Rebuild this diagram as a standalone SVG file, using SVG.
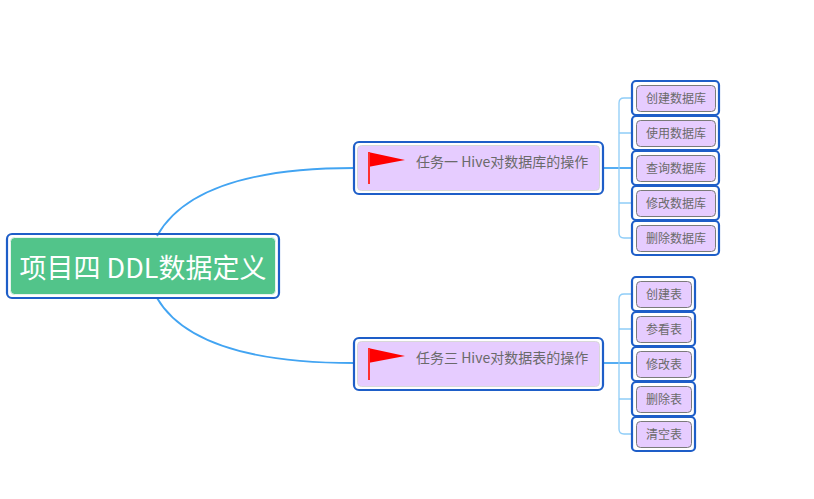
<svg xmlns="http://www.w3.org/2000/svg" width="814" height="499" viewBox="0 0 814 499">
<defs>
<style>
.sel{fill:none;stroke:#1e5ec8;stroke-width:2.2}
.root{fill:#52c48a;stroke:#e8f4ee;stroke-width:1}
.task{fill:#e6ccff;stroke:#d8d8d8;stroke-width:1}
.leaf{fill:#e6ccff;stroke:#7a7a7a;stroke-width:1}
.main{fill:none;stroke:#42a4f2;stroke-width:1.8}
.br{fill:none;stroke:#8fcdf8;stroke-width:1.3}
.t{font-family:"Noto Sans CJK SC","Liberation Sans",sans-serif;fill:#6a6a6a}
.tt{font-size:14px}
.lt{font-size:12px;text-anchor:middle}
.rt{font-family:"Noto Sans CJK SC","Liberation Sans",sans-serif;font-size:27px;fill:#ffffff;text-anchor:middle}
</style>
<g id="flag">
<polygon points="0,0 37,8 0,15" fill="#ff0000"/>
<line x1="1" y1="0" x2="1" y2="32" stroke="#ff3030" stroke-width="2"/>
</g>
</defs>
<rect width="814" height="499" fill="#ffffff"/>
<g id="connectors">
<path class="main" d="M157,236 Q195,168 354,168"/>
<path class="main" d="M157,298 Q195,363 354,363"/>
<path class="main" d="M603,168 H632"/>
<path class="main" d="M603,363 H632"/>
<path class="br" d="M632,98 H624 Q619,98 619,103 V233 Q619,238 624,238 H632"/>
<path class="br" d="M619,133 H632 M619,203 H632"/>
<path class="br" d="M632,294 H624 Q619,294 619,299 V429 Q619,434 624,434 H632"/>
<path class="br" d="M619,329 H632 M619,399 H632"/>
</g>
<g id="root">
<rect class="sel" x="7" y="234" width="272" height="64" rx="5"/>
<rect class="root" x="10.5" y="237.5" width="265" height="57" rx="4"/>
<text class="rt" x="143" y="277.5">项目四 DDL数据定义</text>
</g>
<g id="task1">
<rect class="sel" x="354" y="142" width="249" height="52" rx="5"/>
<rect class="task" x="357.5" y="145.5" width="242" height="45" rx="4"/>
<use href="#flag" x="368" y="152"/>
<text class="t tt" x="416" y="167">任务一 Hive对数据库的操作</text>
</g>
<g id="task3">
<rect class="sel" x="354" y="338" width="249" height="52" rx="5"/>
<rect class="task" x="357.5" y="341.5" width="242" height="45" rx="4"/>
<use href="#flag" x="368" y="348"/>
<text class="t tt" x="416" y="363">任务三 Hive对数据表的操作</text>
</g>
<g id="c1"><rect class="sel" x="632" y="81" width="87" height="34" rx="4"/><rect class="leaf" x="636.5" y="85.5" width="79" height="26" rx="4"/><text class="t lt" x="676" y="102.5">创建数据库</text></g>
<g id="c2"><rect class="sel" x="632" y="116" width="87" height="34" rx="4"/><rect class="leaf" x="636.5" y="120.5" width="79" height="26" rx="4"/><text class="t lt" x="676" y="137.5">使用数据库</text></g>
<g id="c3"><rect class="sel" x="632" y="151" width="87" height="34" rx="4"/><rect class="leaf" x="636.5" y="155.5" width="79" height="26" rx="4"/><text class="t lt" x="676" y="172.5">查询数据库</text></g>
<g id="c4"><rect class="sel" x="632" y="186" width="87" height="34" rx="4"/><rect class="leaf" x="636.5" y="190.5" width="79" height="26" rx="4"/><text class="t lt" x="676" y="207.5">修改数据库</text></g>
<g id="c5"><rect class="sel" x="632" y="221" width="87" height="34" rx="4"/><rect class="leaf" x="636.5" y="225.5" width="79" height="26" rx="4"/><text class="t lt" x="676" y="242.5">删除数据库</text></g>
<g id="d1"><rect class="sel" x="632" y="277" width="63" height="34" rx="4"/><rect class="leaf" x="636.5" y="281.5" width="55" height="26" rx="4"/><text class="t lt" x="664" y="298.5">创建表</text></g>
<g id="d2"><rect class="sel" x="632" y="312" width="63" height="34" rx="4"/><rect class="leaf" x="636.5" y="316.5" width="55" height="26" rx="4"/><text class="t lt" x="664" y="333.5">参看表</text></g>
<g id="d3"><rect class="sel" x="632" y="347" width="63" height="34" rx="4"/><rect class="leaf" x="636.5" y="351.5" width="55" height="26" rx="4"/><text class="t lt" x="664" y="368.5">修改表</text></g>
<g id="d4"><rect class="sel" x="632" y="382" width="63" height="34" rx="4"/><rect class="leaf" x="636.5" y="386.5" width="55" height="26" rx="4"/><text class="t lt" x="664" y="403.5">删除表</text></g>
<g id="d5"><rect class="sel" x="632" y="417" width="63" height="34" rx="4"/><rect class="leaf" x="636.5" y="421.5" width="55" height="26" rx="4"/><text class="t lt" x="664" y="438.5">清空表</text></g>
</svg>
